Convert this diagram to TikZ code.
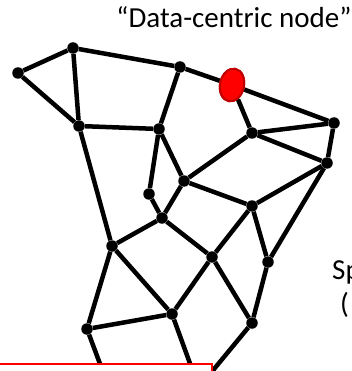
\documentclass[tikz,border=0pt]{standalone}
\usepackage{fontspec}
\usepackage{xcolor}
\usepackage{tikz}
\usetikzlibrary{shapes.geometric}
\newfontfamily\labelfont{Carlito}
\definecolor{darkred}{RGB}{192,0,0}

\begin{document}
\begin{tikzpicture}[x=1pt, y=-1pt,
    dot/.style={circle, fill=black, inner sep=0pt, minimum size=11.5pt},
    edge/.style={line width=4.5pt, black},
    blob/.style={ellipse, fill=red, draw=darkred, line width=2pt, inner sep=0pt,
        minimum width=24pt, minimum height=33pt, rotate=-12},
    bigtext/.style={font=\labelfont\fontsize{29}{35}\selectfont, inner sep=0pt}]
    \useasboundingbox (0,0) rectangle (352,371);
    \clip (0,0) rectangle (352,371);
    % mesh nodes
    \foreach \n/\x/\y in {a/73/48, b/18/73, c/180/67, d/334/123, e/252/133,
        f/79/126, g/159/129, h/327/163, i/184/181, j/149/194, k/252/206,
        l/162/218, m/112/246, n/212/257, o/268/262, p/172/314, q/87/329, s/252/323} {
        \node[dot] (\n) at (\x,\y) {};
    }
    \coordinate (qb) at (106,380);
    \coordinate (pb) at (196,380);
    \coordinate (sb) at (205,380);
    \node[blob] (r) at (232,85) {};
    % links
    \foreach \u/\v in {a/b, a/c, c/r, b/f, a/f, c/g, r/d, r/e, e/d, e/h, d/h,
        f/g, f/m, g/j, g/i, j/l, i/l, i/e, i/k, h/k, h/o, k/n, k/o, l/m, l/n,
        m/p, m/q, n/p, n/s, o/s, q/p, q/qb, p/pb, s/sb} {
        \draw[edge] (\u) -- (\v);
    }
    \node[blob] at (r) {};
    \draw[red, line width=1.8pt, fill=white] (-5,364) rectangle (212,390);
    % labels
    \node[bigtext, anchor=base] (title) at (234,28) {“Data-centric node”};
    \node[bigtext, anchor=base west] (sp) at (332,279) {Sp};
    \node[bigtext, anchor=base west] (paren) at (340,313) {(};
\end{tikzpicture}
\end{document}
